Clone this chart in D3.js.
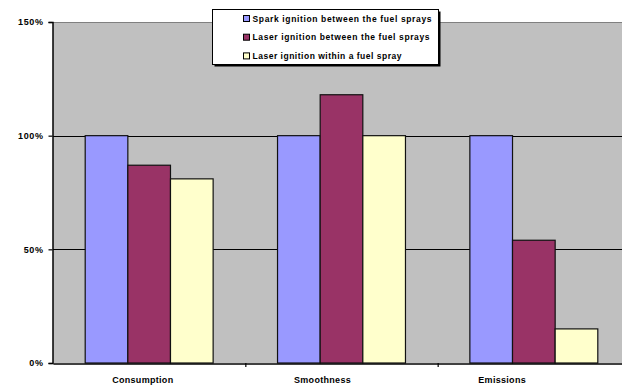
<!DOCTYPE html>
<html>
<head>
<meta charset="utf-8">
<script src="https://cdn.jsdelivr.net/npm/d3@7"></script>
<style>
  html, body { margin: 0; padding: 0; background: #fff; }
  svg { display: block; }
  text { font-family: "Liberation Sans", Arial, sans-serif; font-weight: bold; fill: #000; }
</style>
</head>
<body>
<svg id="chart" width="622" height="389"></svg>
<script>
// Relative comparison of ignition concepts (spark = 100%)
const categories = ["Consumption", "Smoothness", "Emissions"];
const seriesNames = [
  "Spark ignition between the fuel sprays",
  "Laser ignition between the fuel sprays",
  "Laser ignition within a fuel spray"
];
const sparkBetween = [100, 100, 100];
const laserBetween = [87, 118, 54];
const laserWithin = [81, 100, 15];
const yTicks = [0, 50, 100, 150];
const yTickLabels = ["0%", "50%", "100%", "150%"];
const colors = ["#9999FF", "#993366", "#FFFFCC"];

const seriesValues = [sparkBetween, laserBetween, laserWithin];

const svg = d3.select("#chart");
const plot = { left: 53, right: 630, top: 21, bottom: 363 };

const x0 = d3.scaleBand().domain(categories).range([plot.left, plot.right]).padding(0);
const x1 = d3.scaleBand().domain(seriesNames).range([0, x0.bandwidth()])
  .paddingInner(0).paddingOuter(0.755);
const y = d3.scaleLinear().domain([0, 150]).range([plot.bottom, plot.top + 1]);
const labelX = d3.scaleBand().domain(categories).range([plot.left, 592]);

// plot area background
svg.append("rect")
  .attr("x", plot.left).attr("y", y(150))
  .attr("width", plot.right - plot.left).attr("height", y(0) - y(150))
  .attr("fill", "#C0C0C0");

// top border of the plot area
svg.append("line")
  .attr("x1", plot.left).attr("x2", plot.right)
  .attr("y1", y(150) + 0.5).attr("y2", y(150) + 0.5)
  .attr("stroke", "#808080").attr("stroke-width", 1);

// gridlines
svg.append("g").selectAll("line").data(yTicks.filter(v => v > 0 && v < 150)).join("line")
  .attr("x1", plot.left).attr("x2", plot.right)
  .attr("y1", d => Math.round(y(d)) + 0.5).attr("y2", d => Math.round(y(d)) + 0.5)
  .attr("stroke", "#000").attr("stroke-width", 1.2);

// bars
const groups = svg.append("g").selectAll("g").data(categories).join("g")
  .attr("transform", c => `translate(${x0(c)},0)`);
groups.selectAll("rect")
  .data((c, ci) => seriesNames.map((s, si) => ({ s, si, v: seriesValues[si][ci] })))
  .join("rect")
  .attr("x", d => x1(d.s))
  .attr("y", d => y(d.v))
  .attr("width", x1.bandwidth())
  .attr("height", d => y(0) - y(d.v))
  .attr("fill", d => colors[d.si])
  .attr("stroke", "#111").attr("stroke-width", 1.2);

// y axis
const yAxis = d3.axisLeft(y).tickValues(yTicks).tickSize(4)
  .tickFormat((d, i) => yTickLabels[i]);
const gy = svg.append("g").attr("transform", `translate(${plot.left - 0.5},0)`).call(yAxis);
gy.select(".domain").attr("stroke", "#000").attr("stroke-width", 1.5);
gy.selectAll(".tick line").attr("stroke", "#000").attr("stroke-width", 1.2);
gy.selectAll(".tick text")
  .attr("x", -9)
  .style("font-size", "9px")
  .style("letter-spacing", "0.6px")
  .style("font-family", "'Liberation Sans', Arial, sans-serif")
  .style("font-weight", "bold");

// x axis
const xAxis = d3.axisBottom(x0).tickSize(0).tickFormat("");
const gx = svg.append("g").attr("transform", `translate(0,${plot.bottom + 0.5})`).call(xAxis);
gx.select(".domain").attr("stroke", "#000").attr("stroke-width", 1.5);
gx.selectAll(".tick").remove();
// category separators below the axis
svg.append("g").selectAll("line").data(categories.slice(1)).join("line")
  .attr("x1", c => x0(c) + 0.5).attr("x2", c => x0(c) + 0.5)
  .attr("y1", plot.bottom).attr("y2", plot.bottom + 4)
  .attr("stroke", "#000").attr("stroke-width", 1.2);

// category labels
svg.append("g").selectAll("text").data(categories).join("text")
  .attr("x", c => labelX(c) + labelX.bandwidth() / 2)
  .attr("y", 383)
  .attr("text-anchor", "middle")
  .style("font-size", "9px")
  .style("letter-spacing", "0.3px")
  .text(c => c);

// legend
const legend = svg.append("g").attr("transform", "translate(212.5,9.5)");
legend.append("rect").attr("x", 2).attr("y", 2).attr("width", 226).attr("height", 55).attr("fill", "#000");
legend.append("rect").attr("width", 226).attr("height", 55)
  .attr("fill", "#fff").attr("stroke", "#000").attr("stroke-width", 1);
const legendTextWidths = [179, 177, 149];
const items = legend.selectAll("g.item").data(seriesNames).join("g")
  .attr("class", "item")
  .attr("transform", (d, i) => `translate(31,${9 + i * 18.7})`);
items.append("rect")
  .attr("x", 0).attr("y", -3).attr("width", 6).attr("height", 6)
  .attr("fill", (d, i) => colors[i]).attr("stroke", "#000").attr("stroke-width", 1);
items.append("text")
  .attr("x", 9).attr("y", 3)
  .attr("textLength", (d, i) => legendTextWidths[i])
  .attr("lengthAdjust", "spacing")
  .style("font-size", "8.5px")
  .text(d => d);
</script>
</body>
</html>
